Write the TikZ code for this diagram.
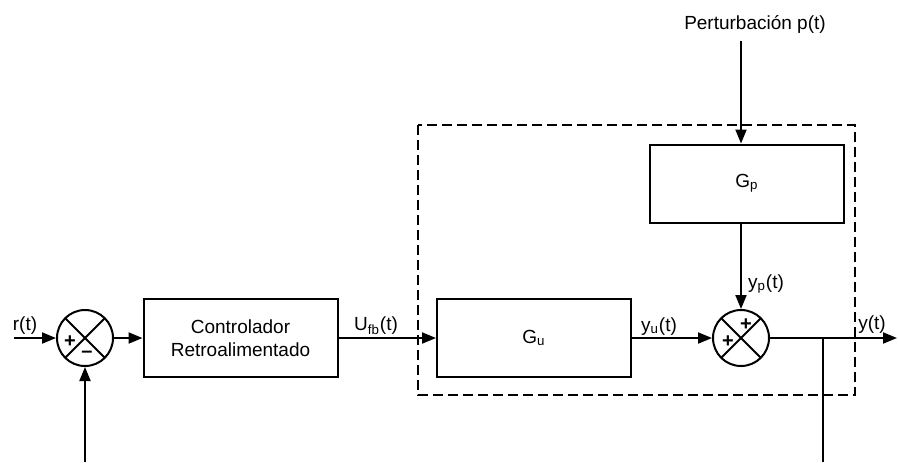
\documentclass[tikz,border=0pt]{standalone}
\usepackage{fontspec}
\setmainfont{Liberation Sans}
\usetikzlibrary{arrows.meta}

\begin{document}
\begin{tikzpicture}[x=0.5pt,y=-0.5pt,line width=1pt,
  every node/.style={font=\fontsize{9.5}{11.5}\selectfont},
  block/.style={draw,minimum width=97pt,minimum height=39pt,inner sep=2pt,align=center},
  sumnode/.style={draw,circle,minimum size=28pt,inner sep=0pt,
    path picture={\draw (path picture bounding box.north west) -- (path picture bounding box.south east)
      (path picture bounding box.north east) -- (path picture bounding box.south west);}},
  sig/.style={-{Triangle[length=7pt,width=5.5pt]}},
  sign/.style={font=\fontsize{10}{10}\selectfont\bfseries,inner sep=0pt},
  plant/.style={dash pattern=on 5pt off 2.5pt,line width=1.1pt}]
\useasboundingbox (0,0) rectangle (898,462);

% blocks and summing points
\node[sumnode] (s1) at (85,338) {};
\node[block] (ctrl) at (240.5,338) {Controlador\\Retroalimentado};
\node[block] (gu) at (534,338) {G\textsubscript{u}};
\node[block] (gp) at (747,183.5) {G\textsubscript{p}};
\node[sumnode] (s2) at (741,338) {};
\node[sign] at (70,342) {+};
\node[sign] at (87,354) {--};
\node[sign] at (746,325) {+};
\node[sign] at (728,342) {+};

% plant boundary
\draw[plant] (418,125) rectangle (855,395);

% labels
\node (r) at (25,326) {r(t)};
\node (ufb) at (376,326) {U\textsubscript{fb}(t)};
\node (yu) at (659,327) {y\textsubscript{u}(t)};
\node (yp) at (766,284) {y\textsubscript{p}(t)};
\node (y) at (872,325) {y(t)};
\node (pert) at (755,24) {Perturbación p(t)};

\coordinate (rin) at (14,338);
\coordinate (tap) at (823,338);
\coordinate (out) at (897,338);
\coordinate (fbr) at (823,462);
\coordinate (fbl) at (85,462);

% signals
\draw[sig] (rin) -- (s1);
\draw[sig] (s1) -- (ctrl);
\draw[sig] (ctrl) -- (gu);
\draw[sig] (gu) -- (s2);
\draw[sig] (pert.south -| s2) -- (s2 |- gp.north);
\draw[sig] (s2 |- gp.south) -- (s2);
\draw (s2) -- (tap);
\draw[sig] (tap) -- (out);
\draw (tap) -- (fbr);
\draw[sig] (fbl) -- (s1);
\end{tikzpicture}
\end{document}
